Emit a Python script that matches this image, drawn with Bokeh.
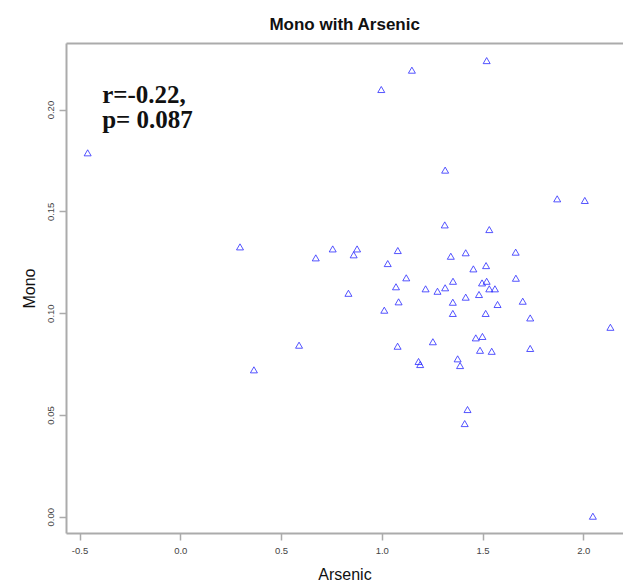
from bokeh.plotting import figure
from bokeh.models import LinearAxis, FixedTicker, PrintfTickFormatter, ColumnDataSource
from bokeh.core.properties import value
from bokeh.embed import file_html
from bokeh.resources import INLINE

# ---- data ----
arsenic = [-0.462, 0.294, 0.363, 0.587, 0.670, 0.754, 0.832, 0.858, 0.875, 0.995,
           1.010, 1.027, 1.068, 1.076, 1.077, 1.081, 1.119, 1.147, 1.180, 1.188,
           1.215, 1.251, 1.274, 1.310, 1.312, 1.312, 1.340, 1.350, 1.350, 1.351,
           1.374, 1.386, 1.409, 1.414, 1.414, 1.423, 1.452, 1.464, 1.480, 1.485,
           1.495, 1.497, 1.513, 1.515, 1.518, 1.518, 1.531, 1.531, 1.543, 1.559,
           1.572, 1.662, 1.663, 1.697, 1.734, 1.734, 1.868, 2.005, 2.045, 2.132]
mono = [0.1785, 0.1323, 0.0719, 0.0840, 0.1269, 0.1313, 0.1095, 0.1284, 0.1313, 0.2096,
        0.1012, 0.1241, 0.1127, 0.0835, 0.1305, 0.1053, 0.1171, 0.2191, 0.0760, 0.0745,
        0.1117, 0.0857, 0.1105, 0.1431, 0.1700, 0.1122, 0.1277, 0.1051, 0.0996, 0.1154,
        0.0773, 0.0740, 0.0455, 0.1294, 0.1076, 0.0524, 0.1215, 0.0876, 0.1089, 0.0815,
        0.1146, 0.0883, 0.0996, 0.1231, 0.2238, 0.1154, 0.1408, 0.1117, 0.0810, 0.1117,
        0.1040, 0.1297, 0.1169, 0.1056, 0.0974, 0.0824, 0.1559, 0.1551, 0.0000, 0.0928]
x_ticks = [-0.5, 0.0, 0.5, 1.0, 1.5, 2.0]
y_ticks = [0.00, 0.05, 0.10, 0.15, 0.20]
title_text = "Mono with Arsenic"
x_label = "Arsenic"
y_label = "Mono"
stat_lines = ["r=-0.22,", "p= 0.087"]

# ---- styling / layout ----
BORDER = "#ababab"
TICKCOL = "#444444"
ann_x = -0.39
ann_y = [0.2078, 0.1952]

p = figure(width=623, height=585,
           x_range=(-0.567, 2.197), y_range=(-0.008, 0.2327),
           output_backend="svg", toolbar_location=None,
           min_border_left=66, min_border_right=0,
           min_border_top=43, min_border_bottom=52,
           background_fill_color="white", border_fill_color="white")
p.outline_line_color = None
p.grid.visible = False

p.title.text = title_text
p.title.align = "center"
p.title.text_font = "Liberation Sans"
p.title.text_font_size = "17px"
p.title.text_font_style = "bold"
p.title.text_color = "#111111"
p.title.standoff = 20

xa = p.below[0]
ya = p.left[0]
for ax, ticks, fmt, lab in ((xa, x_ticks, "%.1f", x_label), (ya, y_ticks, "%.2f", y_label)):
    ax.ticker = FixedTicker(ticks=ticks)
    ax.formatter = PrintfTickFormatter(format=fmt)
    ax.axis_line_color = BORDER
    ax.axis_line_width = 2
    ax.major_tick_line_color = BORDER
    ax.major_tick_line_width = 1.5
    ax.major_tick_out = 7
    ax.major_tick_in = 0
    ax.minor_tick_line_color = None
    ax.major_label_text_font = "Liberation Sans"
    ax.major_label_text_font_size = "9.5px"
    ax.major_label_text_color = TICKCOL
    ax.major_label_standoff = 5
    ax.axis_label = lab
    ax.axis_label_text_font = "Liberation Sans"
    ax.axis_label_text_font_size = "16px"
    ax.axis_label_text_font_style = "normal"
    ax.axis_label_text_color = "#111111"

xa.major_label_standoff = 7
xa.axis_label_standoff = 9
ya.axis_label_standoff = 8
ya.major_label_orientation = "vertical"

top_axis = LinearAxis(ticker=FixedTicker(ticks=[]),
                      major_label_text_font_size="0px",
                      major_tick_out=0, major_tick_in=0,
                      minor_tick_out=0, minor_tick_in=0,
                      minor_tick_line_color=None, major_tick_line_color=None,
                      major_label_standoff=0,
                      axis_line_color=BORDER, axis_line_width=2)
p.add_layout(top_axis, "above")

src = ColumnDataSource(dict(x=arsenic, y=mono))
p.scatter("x", "y", source=src, marker="triangle", size=7,
          fill_color=None, line_color="#2a2aff", line_alpha=0.8, line_width=1)

for txt, yy in zip(stat_lines, ann_y):
    p.text(x=[ann_x], y=[yy], text=[txt], text_font=value("Liberation Serif"),
           text_font_size="25px", text_font_style="bold", text_color="#111111",
           text_align="left", text_baseline="alphabetic")

open("out.html", "w").write(file_html(p, INLINE))
